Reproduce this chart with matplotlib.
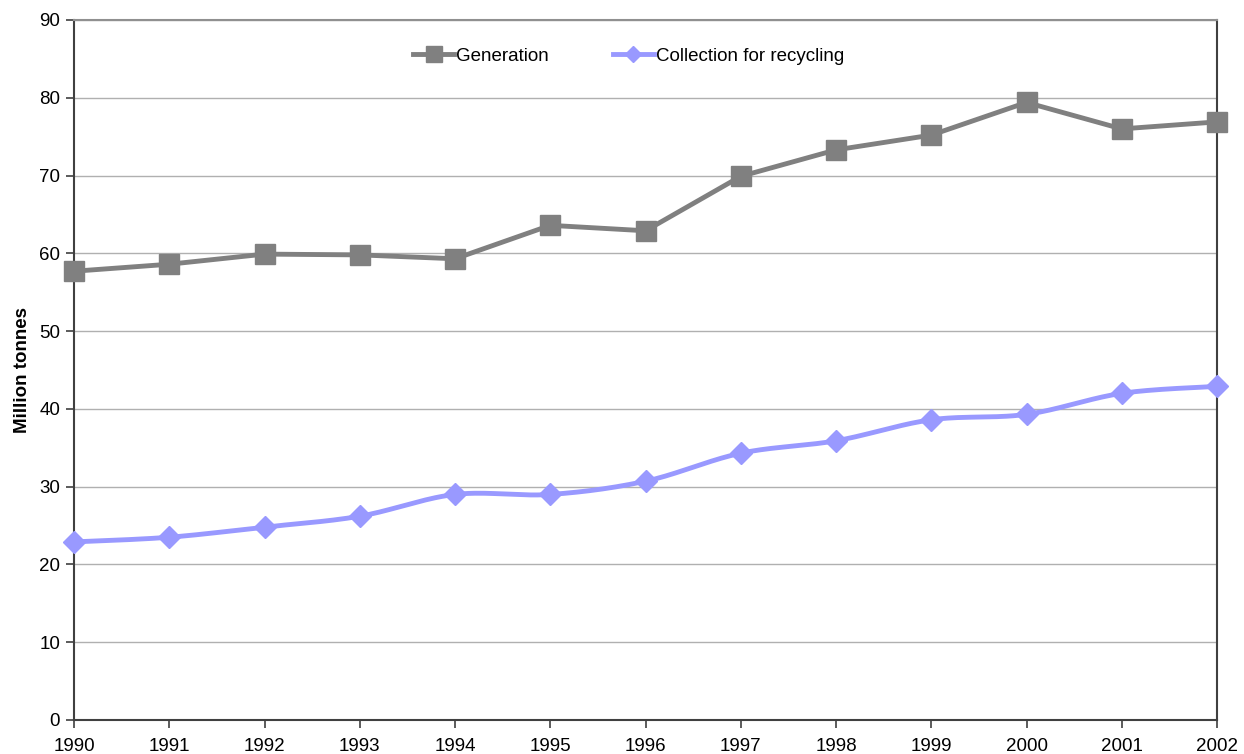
import matplotlib
matplotlib.use("Agg")
import matplotlib.pyplot as plt
import numpy as np
from matplotlib.lines import Line2D

plt.rcParams['font.family'] = ['Liberation Sans', 'DejaVu Sans']

years = [1990, 1991, 1992, 1993, 1994, 1995, 1996, 1997, 1998, 1999, 2000, 2001, 2002]
generation = [57.7, 58.6, 59.9, 59.8, 59.3, 63.6, 62.9, 69.9, 73.3, 75.2, 79.4, 76.0, 76.9]
collection = [22.9, 23.5, 24.8, 26.2, 29.0, 29.0, 30.7, 34.3, 35.9, 38.6, 39.3, 42.0, 42.9]

GEN_COLOR = '#808080'
COL_COLOR = '#9999ff'


def smooth_curve(x, y, steps=30):
    """Catmull-Rom style curve through the points (like a spreadsheet 'smoothed line')."""
    x = np.asarray(x, float)
    y = np.asarray(y, float)
    px = np.concatenate(([x[0]], x, [x[-1]]))
    py = np.concatenate(([y[0]], y, [y[-1]]))
    xs, ys = [], []
    t = np.linspace(0, 1, steps)
    for i in range(1, len(px) - 2):
        p0, p1, p2, p3 = (np.array([px[j], py[j]]) for j in range(i - 1, i + 3))
        c1 = p1 + (p2 - p0) / 6
        c2 = p2 - (p3 - p1) / 6
        b = ((1 - t) ** 3)[:, None] * p1 + (3 * (1 - t) ** 2 * t)[:, None] * c1 \
            + (3 * (1 - t) * t ** 2)[:, None] * c2 + (t ** 3)[:, None] * p2
        xs.extend(b[:, 0])
        ys.extend(b[:, 1])
    return np.array(xs), np.array(ys)


fig = plt.figure(figsize=(12.44, 7.54), dpi=100)
ax = fig.add_axes([74 / 1244, 1 - 720 / 754, (1217 - 74) / 1244, 700 / 754])

ax.set_xlim(1990, 2002)
ax.set_ylim(0, 90)
ax.set_yticks(range(0, 91, 10))
ax.set_xticks(years)
ax.grid(axis='y', color='#b0b0b0', linewidth=1)
ax.set_axisbelow(True)

# generation: straight segments with square markers
ax.plot(years, generation, color=GEN_COLOR, linewidth=3.5, zorder=3, clip_on=False)
ax.plot(years, generation, linestyle='none', marker='s', markersize=15,
        color=GEN_COLOR, zorder=4, clip_on=False)

# collection: smoothed line with diamond markers
sx, sy = smooth_curve(years, collection)
ax.plot(sx, sy, color=COL_COLOR, linewidth=3.5, zorder=3, clip_on=False)
ax.plot(years, collection, linestyle='none', marker='D', markersize=11,
        color=COL_COLOR, zorder=4, clip_on=False)

for side in ['left', 'bottom', 'right']:
    ax.spines[side].set_color('#404040')
    ax.spines[side].set_linewidth(1.5)
ax.spines['top'].set_color('#909090')
ax.spines['top'].set_linewidth(1.5)

ax.tick_params(axis='both', labelsize=13.5, color='#404040', length=6, width=1.2,
               labelcolor='black')
ax.tick_params(axis='y', pad=4)
ax.tick_params(axis='x', pad=7)

ax.set_ylabel('Million tonnes', fontsize=13.5, fontweight='bold', labelpad=6)

handles = [
    Line2D([], [], color=GEN_COLOR, linewidth=3.5, marker='s', markersize=11),
    Line2D([], [], color=COL_COLOR, linewidth=3.5, marker='D', markersize=8),
]
ax.legend(handles, ['Generation', 'Collection for recycling'], loc='center left',
          bbox_to_anchor=((413 - 74) / 1143, (720 - 56) / 700), ncol=2, frameon=False,
          fontsize=13.5, handlelength=2.2, handletextpad=0.1, columnspacing=3.4,
          borderpad=0, borderaxespad=0)

fig.savefig('out.png', dpi=100)
